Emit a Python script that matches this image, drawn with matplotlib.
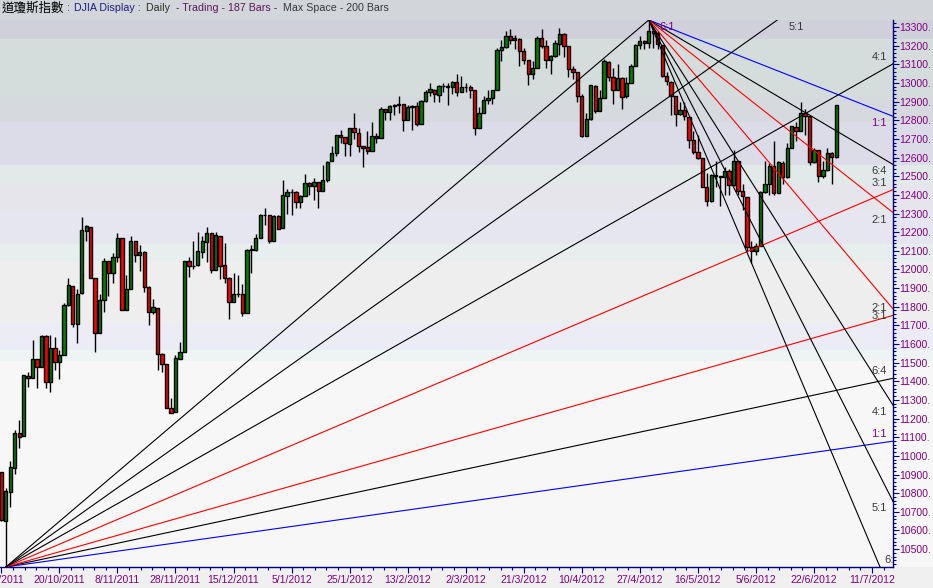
import matplotlib
matplotlib.use('Agg')
import matplotlib.pyplot as plt
import numpy as np
import pandas as pd
from matplotlib.ticker import MultipleLocator

# DJIA daily bars, 3 Oct 2011 .. 29 Jun 2012
opens = [10912, 10650, 10804, 10936, 11121, 11104, 11431, 11417, 11517, 11479,
         11643, 11396, 11576, 11504, 11542, 11808, 11912, 11708, 11873, 12207,
         12230, 11954, 11660, 11837, 12043, 11981, 12068, 12168, 11783, 11896,
         12152, 12077, 12094, 11904, 11771, 11794, 11546, 11491, 11257, 11233,
         11521, 11559, 12046, 12021, 12023, 12096, 12148, 12194, 11999, 12182,
         12022, 11953, 11825, 11870, 11867, 11769, 12102, 12107, 12169, 12291,
         12290, 12152, 12286, 12221, 12396, 12418, 12415, 12360, 12393, 12462,
         12449, 12470, 12423, 12481, 12580, 12623, 12720, 12708, 12675, 12757,
         12734, 12660, 12655, 12633, 12716, 12706, 12861, 12844, 12878, 12884,
         12889, 12802, 12873, 12878, 12781, 12904, 12950, 12965, 12938, 12984,
         12982, 12981, 13005, 12952, 12980, 12977, 12960, 12760, 12839, 12908,
         12921, 12960, 13177, 13193, 13253, 13233, 13238, 13170, 13124, 13046,
         13082, 13241, 13197, 13125, 13146, 13211, 13264, 13198, 13074, 13057,
         12929, 12718, 12806, 12985, 12851, 12922, 13114, 13032, 12965, 13028,
         12928, 13002, 13090, 13205, 13228, 13214, 13279, 13268, 13206, 13037,
         13007, 12931, 12836, 12854, 12820, 12694, 12632, 12598, 12442, 12369,
         12503, 12502, 12496, 12529, 12454, 12580, 12419, 12391, 12118, 12101,
         12128, 12415, 12460, 12555, 12411, 12573, 12497, 12652, 12766, 12742,
         12838, 12824, 12574, 12640, 12503, 12535, 12626, 12604]
highs = [10914, 10827, 10970, 11139, 11193, 11434, 11448, 11620, 11520, 11650,
         11649, 11650, 11640, 11570, 11820, 11956, 11913, 11893, 12284, 12240,
         12230, 11955, 11870, 12060, 12044, 12090, 12198, 12168, 11970, 12180,
         12152, 12130, 12100, 11910, 11840, 11794, 11550, 11491, 11310, 11540,
         11610, 12046, 12065, 12150, 12200, 12180, 12230, 12194, 12200, 12182,
         12140, 11960, 11980, 11968, 11920, 12110, 12130, 12190, 12295, 12330,
         12290, 12290, 12290, 12479, 12430, 12430, 12420, 12400, 12510, 12470,
         12490, 12470, 12560, 12580, 12660, 12720, 12750, 12710, 12760, 12840,
         12760, 12660, 12740, 12790, 12730, 12870, 12862, 12880, 12890, 12930,
         12890, 12880, 12880, 12900, 12910, 12960, 13000, 12970, 12990, 13000,
         13000, 13010, 13050, 13040, 13000, 12990, 12960, 12870, 12930, 12960,
         12960, 13190, 13230, 13280, 13290, 13260, 13240, 13190, 13124, 13120,
         13250, 13290, 13230, 13150, 13230, 13297, 13270, 13198, 13090, 13060,
         12940, 12840, 12990, 12990, 12960, 13130, 13120, 13080, 13100, 13030,
         13030, 13100, 13210, 13250, 13230, 13338, 13280, 13280, 13206, 13060,
         13010, 12931, 12900, 12900, 12820, 12740, 12720, 12600, 12520, 12510,
         12580, 12502, 12550, 12540, 12640, 12580, 12460, 12391, 12150, 12140,
         12420, 12580, 12570, 12690, 12580, 12580, 12680, 12770, 12790, 12898,
         12860, 12830, 12650, 12640, 12580, 12650, 12630, 12880]
lows = [10653, 10404, 10725, 10905, 11040, 11104, 11370, 11417, 11363, 11479,
        11366, 11340, 11460, 11410, 11541, 11806, 11690, 11608, 11870, 12150,
        11955, 11555, 11660, 11770, 11860, 11930, 12040, 11780, 11783, 11896,
        12040, 11990, 11880, 11700, 11760, 11460, 11450, 11257, 11230, 11233,
        11520, 11559, 11960, 12000, 12020, 12060, 12040, 11980, 11998, 11950,
        11930, 11735, 11825, 11850, 11750, 11769, 11980, 12100, 12169, 12240,
        12140, 12150, 12215, 12221, 12300, 12290, 12330, 12330, 12393, 12400,
        12370, 12330, 12420, 12470, 12580, 12610, 12680, 12610, 12610, 12700,
        12630, 12550, 12620, 12633, 12680, 12706, 12800, 12800, 12830, 12840,
        12740, 12802, 12750, 12770, 12780, 12900, 12930, 12900, 12900, 12950,
        12880, 12940, 12930, 12950, 12950, 12920, 12720, 12760, 12839, 12890,
        12890, 12960, 13120, 13190, 13210, 13180, 13090, 13100, 12990, 13020,
        13082, 13190, 13080, 13050, 13140, 13150, 13140, 13030, 13020, 12900,
        12710, 12718, 12800, 12840, 12850, 12922, 13010, 12890, 12960, 12860,
        12920, 13000, 13090, 13180, 13180, 13190, 13190, 13180, 13030, 12990,
        12830, 12770, 12830, 12800, 12650, 12620, 12590, 12440, 12340, 12360,
        12440, 12340, 12400, 12400, 12450, 12400, 12320, 12100, 12035, 12080,
        12128, 12410, 12400, 12400, 12410, 12460, 12490, 12650, 12690, 12740,
        12720, 12560, 12570, 12470, 12490, 12530, 12460, 12600]
closes = [10655, 10809, 10940, 11123, 11103, 11433, 11416, 11519, 11478, 11644,
          11397, 11577, 11505, 11542, 11809, 11914, 11707, 11869, 12209, 12231,
          11955, 11658, 11836, 12044, 11983, 12068, 12170, 11781, 11894, 12154,
          12079, 12096, 11906, 11771, 11796, 11547, 11494, 11258, 11232, 11523,
          11556, 12046, 12020, 12019, 12098, 12150, 12196, 11998, 12184, 12021,
          11955, 11823, 11869, 11866, 11766, 12104, 12108, 12170, 12294, 12291,
          12151, 12287, 12218, 12397, 12418, 12416, 12360, 12393, 12462, 12449,
          12471, 12422, 12482, 12579, 12624, 12720, 12709, 12676, 12757, 12735,
          12660, 12654, 12633, 12716, 12705, 12862, 12845, 12878, 12884, 12890,
          12801, 12874, 12878, 12781, 12904, 12950, 12966, 12939, 12985, 12983,
          12981, 13005, 12952, 12980, 12978, 12963, 12759, 12837, 12908, 12922,
          12960, 13178, 13194, 13253, 13233, 13239, 13170, 13125, 13046, 13081,
          13242, 13198, 13126, 13146, 13212, 13264, 13200, 13075, 13060, 12930,
          12716, 12805, 12987, 12850, 12921, 13116, 13033, 12964, 13029, 12927,
          13002, 13091, 13205, 13228, 13214, 13279, 13269, 13207, 13038, 13009,
          12932, 12835, 12855, 12821, 12695, 12632, 12599, 12442, 12369, 12504,
          12503, 12496, 12530, 12455, 12581, 12420, 12393, 12119, 12101, 12128,
          12415, 12461, 12554, 12411, 12574, 12496, 12652, 12767, 12742, 12837,
          12824, 12574, 12641, 12503, 12535, 12627, 12602, 12880]

holidays = ['2011-11-24', '2011-12-26', '2012-01-02', '2012-01-16',
            '2012-02-20', '2012-04-06', '2012-05-28']
max_space = 200
tick_every = 13

# gann fans: ratios, colours, labels
fan_ratio = [1, 1.5, 2, 3, 4, 5, 6]
fan_color = ['#0000ff', 'black', '#ff0000', '#ff0000', 'black', 'black', 'black']
fan_label = ['1:1', '6:4', '2:1', '3:1', '4:1', '5:1', '6:1']
low_bar, high_bar, second_low_bar = 1, 145, 168

title_parts = [('道瓊斯指數', 'black'), (' : ', '#800080'), ('DJIA Display : ', '#1c1c80'),
               (' Daily ', '#303020'), (' - Trading - 187 Bars - ', '#5a1a5a'),
               (' Max Space - 200 Bars', '#383838')]

# background bands (figure pixels)
band_px = [0, 20, 39, 97, 122, 165, 184, 210, 244, 262, 323, 350, 361, 567, 588]
band_col = ['#d2d6da', '#d0d0da', '#d5dcdc', '#d6dadf', '#dcdce8', '#e2e9e9',
            '#e5e5eb', '#e6e6f0', '#e6eeee', '#eeeeee', '#ececf6', '#eef4f4',
            '#f7f7f7', '#f0f0f0']

W, H = 933, 588
fig = plt.figure(figsize=(W / 100, H / 100), dpi=100)
bg = fig.add_axes([0, 0, 1, 1], zorder=0)
bg.set_xlim(0, W)
bg.set_ylim(H, 0)
bg.axis('off')
for i in range(len(band_col)):
    bg.axhspan(band_px[i], band_px[i + 1], color=band_col[i], lw=0)

ax = fig.add_axes([0, (H - 567) / H, 893 / W, 547 / H], zorder=1)
ax.patch.set_alpha(0)

o = np.array(opens); h = np.array(highs); l = np.array(lows); c = np.array(closes)
n = len(c)
idx = np.arange(n)
up = c >= o

ax.vlines(idx, l, h, color='black', lw=1, zorder=2)
ax.bar(idx, np.maximum(np.abs(c - o), 1), bottom=np.minimum(o, c), width=0.74,
       color=np.where(up, '#008000', '#ff0000'), edgecolor='black', linewidth=1, zorder=2.5)

x0, x1 = -0.3, max_space - 0.3
y0, y1 = l.min(), h.max()
ax.set_xlim(x0, x1)
ax.set_ylim(y0, y1)

# fan from the low, fan from the high
base_up = (h[high_bar] - l[low_bar]) / (high_bar - low_bar) / 6
base_dn = (h[high_bar] - l[second_low_bar]) / (second_low_bar - high_bar) / 6
lab_font = dict(fontsize=8, family='Liberation Sans', clip_on=True,
                textcoords='offset pixels', annotation_clip=False)
for r, col, lab in zip(fan_ratio, fan_color, fan_label):
    lcol = '#800080' if lab == '1:1' else '#383838'
    # rising
    s = r * base_up
    xa, ya = low_bar, l[low_bar]
    ye = ya + s * (x1 - xa)
    if ye <= y1:
        ax.plot([xa, x1], [ya, ye], color=col, lw=0.8, zorder=3)
        ax.annotate(lab, (x1, ye), xytext=(-6, 7), ha='right', va='center', color=lcol, **lab_font)
    else:
        xe = xa + (y1 - ya) / s
        ax.plot([xa, xe], [ya, y1], color=col, lw=0.8, zorder=3)
        ax.annotate(lab, (xe, y1), xytext=(11, -7), ha='left', va='center',
                    color='#800080' if r == 6 else lcol, **lab_font)
    # falling
    s = r * base_dn
    xa, ya = high_bar, h[high_bar]
    ye = ya - s * (x1 - xa)
    if ye >= y0:
        ax.plot([xa, x1], [ya, ye], color=col, lw=0.8, zorder=3)
        ax.annotate(lab, (x1, ye), xytext=(-6, -7), ha='right', va='center', color=lcol, **lab_font)
    else:
        xe = xa + (ya - y0) / s
        ax.plot([xa, xe], [ya, y0], color=col, lw=0.8, zorder=3)
        ax.annotate(lab, (xe, y0), xytext=(4, 7), ha='left', va='center', color=lcol, **lab_font)

# axes
for sp in ['top', 'left']:
    ax.spines[sp].set_visible(False)
for sp in ['right', 'bottom']:
    ax.spines[sp].set_color('#000080')
    ax.spines[sp].set_linewidth(1)

days = pd.bdate_range('2011-10-03', '2012-08-31')
days = days[~days.isin(pd.to_datetime(holidays))][:max_space]
ticks = list(range(0, max_space, tick_every))
ax.set_xticks(ticks)
ax.set_xticklabels([f'{days[t].day}/{days[t].month}/{days[t].year}' for t in ticks])
ax.xaxis.set_minor_locator(MultipleLocator(tick_every / 5))

ax.yaxis.tick_right()
yt = list(range(10500, 13301, 100))
ax.set_yticks(yt)
ax.set_yticklabels([f'{v}.' for v in yt])
ax.yaxis.set_minor_locator(MultipleLocator(20))

ax.tick_params(which='both', colors='#000080', labelcolor='#800080', labelsize=7.5, width=0.8)
ax.tick_params(which='major', length=4)
ax.tick_params(which='minor', length=2.5)
ax.tick_params(axis='x', pad=2)
ax.tick_params(axis='y', pad=0.5)
for t in ax.get_xticklabels() + ax.get_yticklabels():
    t.set_family('Liberation Sans')

# title, drawn piece by piece
renderer = fig.canvas.get_renderer()
xp = 2
for s, col in title_parts:
    fam = ['Noto Sans CJK TC', 'DejaVu Sans'] if s == '道瓊斯指數' else 'Liberation Sans'
    fs = 9 if s == '道瓊斯指數' else 7.7
    t = fig.text(xp / W, 1 - 8 / H, s, color=col, fontsize=fs, family=fam, ha='left', va='center')
    xp = t.get_window_extent(renderer).x1

fig.savefig('out.png', dpi=100)
